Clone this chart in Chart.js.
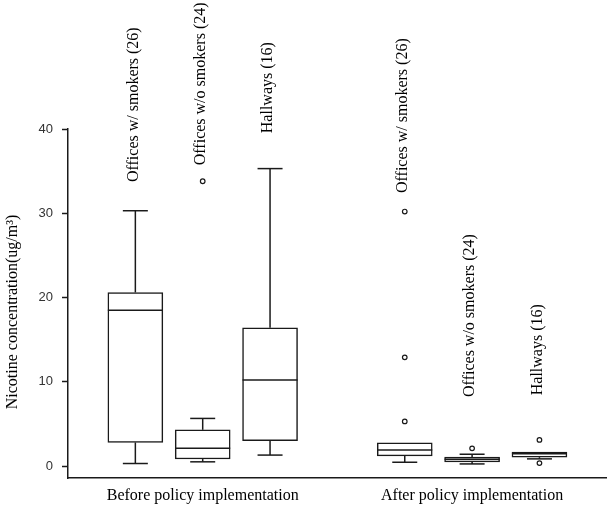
<!DOCTYPE html>
<html>
<head>
<meta charset="utf-8">
<script src="https://cdn.jsdelivr.net/npm/chart.js@4"></script>
<style>
  body { margin: 0; background: #fff; }
  #wrap { width: 612px; height: 514px; }
</style>
</head>
<body>
<div id="wrap"><canvas id="boxChart" width="612" height="514"></canvas></div>
<script>
// Nicotine concentration box plots, before / after policy

const categories = ['Offices w/ smokers (26)', 'Offices w/o smokers (24)', 'Hallways (16)',
                    'Offices w/ smokers (26)', 'Offices w/o smokers (24)', 'Hallways (16)'];
const groupLabels = ['Before policy implementation', 'After policy implementation'];
const groupTicks = [2, 6];
const boxPos = [1, 2, 3, 5, 6, 7];

const whiskerLow  = [0.3, 0.5, 1.3, 0.45, 0.25, 0.85];
const q1          = [2.8, 0.83, 3.0, 1.2, 0.5, 1.05];
const median      = [18.5, 2.1, 10.2, 1.9, 0.8, 1.45];
const q3          = [20.6, 4.3, 16.4, 2.75, 1.05, 1.65];
const whiskerHigh = [30.3, 5.65, 35.3, 2.75, 1.4, 1.65];
const outliers    = [[], [33.8], [], [30.2, 12.9, 5.3], [2.1], [3.1, 0.35]];

const yTicks = [0, 10, 20, 30, 40];
const yTitle = 'Nicotine concentration(ug/m\u00B3)';

// where each rotated category label starts (value units)
const labelBase = [33.7, 35.7, 39.5, 32.4, 8.2, 8.4];

const serif = '"Liberation Serif", "Times New Roman", serif';
const ink = '#1a1a1a';

const boxData = boxPos.map((p, i) => ({ x: p, y: [q1[i], q3[i]] }));
const outlierData = [];
outliers.forEach((list, i) => list.forEach(v => outlierData.push({ x: boxPos[i], y: v })));

// whiskers, caps, medians and all the serif text
const boxExtras = {
    id: 'boxExtras',
    afterDatasetsDraw(chart) {
        const { ctx, scales: { x, y } } = chart;
        const half = 27.5;
        const cap = 12.5;
        ctx.save();
        ctx.strokeStyle = ink;
        ctx.lineWidth = 1.5;
        const line = (x1, y1, x2, y2) => {
            ctx.beginPath(); ctx.moveTo(x1, y1); ctx.lineTo(x2, y2); ctx.stroke();
        };
        boxPos.forEach((p, i) => {
            const cx = x.getPixelForValue(p);
            // median
            const ym = y.getPixelForValue(median[i]);
            line(cx - half, ym, cx + half, ym);
            // upper whisker
            if (whiskerHigh[i] > q3[i]) {
                const yh = y.getPixelForValue(whiskerHigh[i]);
                line(cx, y.getPixelForValue(q3[i]), cx, yh);
                line(cx - cap, yh, cx + cap, yh);
            }
            // lower whisker
            if (whiskerLow[i] < q1[i]) {
                const yl = y.getPixelForValue(whiskerLow[i]);
                line(cx, y.getPixelForValue(q1[i]), cx, yl);
                line(cx - cap, yl, cx + cap, yl);
            }
        });

        ctx.fillStyle = '#000';
        ctx.font = '16px ' + serif;
        ctx.textBaseline = 'middle';

        // category labels, rotated
        ctx.textAlign = 'left';
        categories.forEach((c, i) => {
            ctx.save();
            ctx.translate(x.getPixelForValue(boxPos[i]) - 2, y.getPixelForValue(labelBase[i]));
            ctx.rotate(-Math.PI / 2);
            ctx.fillText(c, 0, 0);
            ctx.restore();
        });

        // group labels under the axis
        ctx.textAlign = 'center';
        groupLabels.forEach((g, i) => {
            ctx.fillText(g, x.getPixelForValue(groupTicks[i]), y.bottom + 18);
        });

        // y axis title
        ctx.save();
        ctx.translate(13, 312);
        ctx.rotate(-Math.PI / 2);
        ctx.fillText(yTitle, 0, 0);
        ctx.restore();
        ctx.restore();
    }
};

const ctx = document.getElementById('boxChart').getContext('2d');
new Chart(ctx, {
    type: 'bar',
    data: {
        datasets: [{
            data: boxData,
            backgroundColor: '#fff',
            borderColor: ink,
            borderWidth: 1.5,
            borderSkipped: false,
            barThickness: 55
        }, {
            type: 'scatter',
            data: outlierData,
            pointStyle: 'circle',
            pointRadius: 2.3,
            pointBorderWidth: 1.2,
            pointBackgroundColor: '#fff',
            pointBorderColor: ink
        }]
    },
    options: {
        responsive: false,
        animation: false,
        layout: { padding: { left: 0, top: 129, right: 5, bottom: 0 } },
        plugins: { legend: { display: false }, tooltip: { enabled: false } },
        scales: {
            x: {
                type: 'linear',
                min: 0,
                max: 8,
                offset: false,
                afterFit: s => { s.height = 36; },
                grid: { display: false, drawTicks: false },
                border: { display: true, color: ink, width: 1.5 },
                ticks: { display: false }
            },
            y: {
                min: -1.42,
                max: 40,
                afterBuildTicks: s => { s.ticks = yTicks.map(v => ({ value: v })); },
                afterFit: s => { s.width = 68; },
                grid: { drawOnChartArea: false, tickLength: 6, tickColor: ink, tickWidth: 1.5 },
                border: { color: ink, width: 1.5 },
                ticks: {
                    padding: 9,
                    color: '#333',
                    font: { family: '"Liberation Sans", Arial, sans-serif', size: 13 }
                }
            }
        }
    },
    plugins: [boxExtras]
});
</script>
</body>
</html>
